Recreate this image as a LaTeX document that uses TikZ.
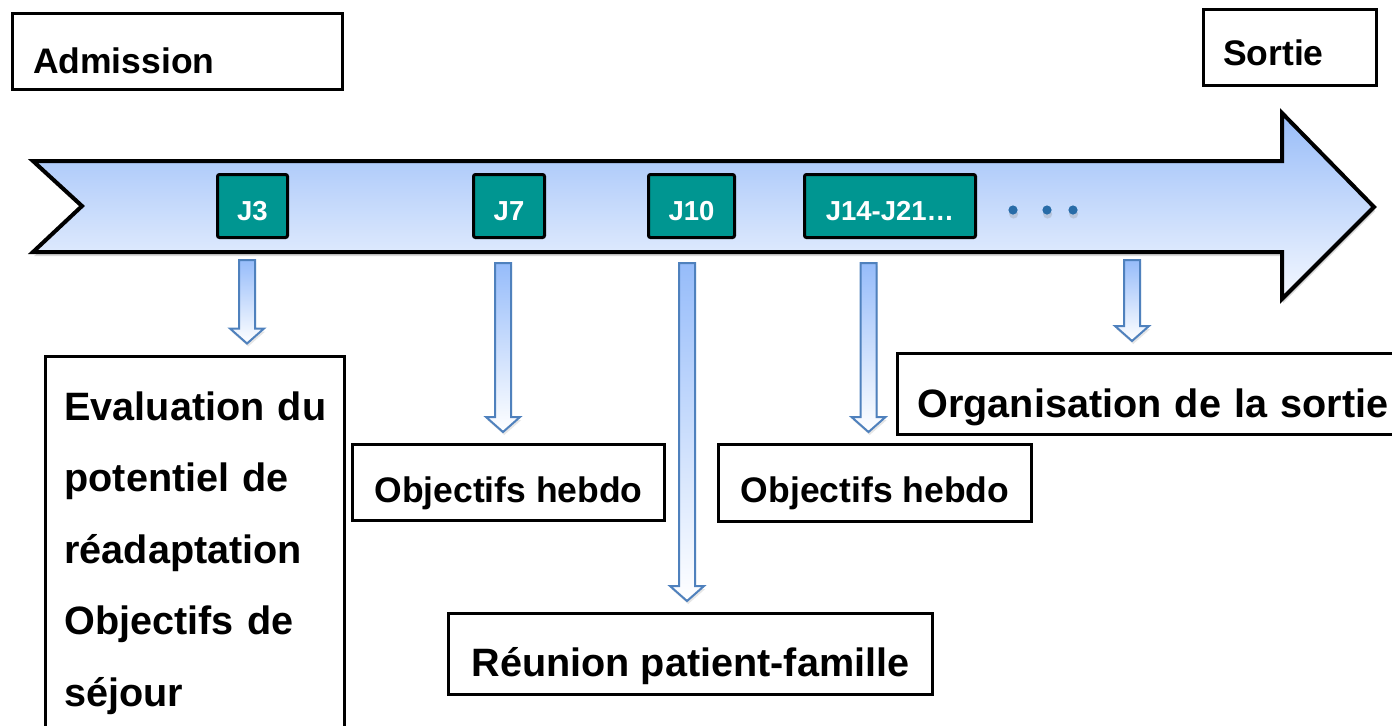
\documentclass[tikz,border=0pt]{standalone}
\usepackage{fontspec}
\setmainfont{Liberation Sans}
\usetikzlibrary{calc,shadows}
\usepackage{xcolor}

\definecolor{jteal}{RGB}{0,150,145}
\definecolor{barTop}{RGB}{152,188,248}
\definecolor{barBot}{RGB}{244,248,255}
\definecolor{flowTop}{RGB}{150,188,250}
\definecolor{linkBlue}{RGB}{79,129,189}
\definecolor{dotBlue}{RGB}{40,108,168}

% block arrow: x from #1, tip just above #2.north
\newcommand{\flowarrow}[2]{%
  \path[flow] let \p1=(#1), \p2=(#2.north) in
    (\x1-4pt,\y1) -- (\x1+4pt,\y1) -- (\x1+4pt,\y2+13pt) -- (\x1+8.5pt,\y2+13pt)
    -- (\x1,\y2+5.5pt) -- (\x1-8.5pt,\y2+13pt) -- (\x1-4pt,\y2+13pt) -- cycle;}

\begin{document}
\begin{tikzpicture}[
    x=0.5pt, y=-0.5pt,
    timeline/.style={draw=black, line width=2pt, top color=barTop, bottom color=barBot,
      drop shadow={shadow xshift=0.6pt, shadow yshift=-2pt, opacity=0.3}},
    dayBox/.style={draw=black, line width=1.5pt, fill=jteal, text=white, rounded corners=1pt,
      inner sep=0pt, minimum height=31.5pt, text height=14.8pt, text depth=0pt,
      font=\bfseries\fontsize{13.75pt}{16pt}\selectfont},
    stepBox/.style={draw=black, line width=1.5pt, fill=white, inner sep=0pt},
    midText/.style={font=\bfseries\fontsize{17.75pt}{21pt}\selectfont},
    bigText/.style={font=\bfseries\fontsize{19.8pt}{35.75pt}\selectfont},
    flow/.style={draw=linkBlue, line width=1pt, top color=flowTop, bottom color=white,
      drop shadow={shadow xshift=0.6pt, shadow yshift=-1.5pt, opacity=0.2}},
    moreDot/.style={fill=dotBlue, drop shadow={shadow xshift=0.3pt, shadow yshift=-2pt, opacity=0.25}}
  ]
  \useasboundingbox (0,0) rectangle (1392,725);

  % time line
  \path[timeline] (33,161) -- (1282,161) -- (1282,113) -- (1374,207) -- (1282,299)
    -- (1282,252) -- (33,252) -- (82,206) -- cycle;

  \node[dayBox, minimum width=35pt] (j3) at (252.5,206) {J3};
  \node[dayBox, minimum width=35.5pt] (j7) at (509,206) {J7};
  \node[dayBox, minimum width=43pt] (j10) at (691.5,206) {J10};
  \node[dayBox, minimum width=85.5pt] (j14) at (890,206) {J14-J21…};

  \foreach \dx in {1013,1047,1073}
    \path[moreDot] (\dx,210) circle (2.3pt);

  % boxes
  \node[stepBox, midText, minimum width=165pt, minimum height=38pt, inner xsep=10.25pt,
    text width=144.5pt, align=left, text height=21.5pt, text depth=0pt] (admission) at (177.5,51.5) {Admission};
  \node[stepBox, midText, minimum height=38pt, inner xsep=9.75pt, text width=67pt, align=left,
    text height=17.7pt, text depth=0pt] (sortie) at (1290,47.5) {Sortie};

  \node[stepBox, bigText, anchor=north west, inner xsep=9.75pt, inner ysep=0pt, text width=130pt,
    align=left, text height=32pt, text depth=170pt] (evalBox) at (43.5,354.5)
    {Evaluation~du\\potentiel~de\\réadaptation\\Objectifs~de\\séjour};
  \node[stepBox, midText, minimum width=156pt, minimum height=38pt, text height=19.7pt,
    text depth=0pt] (hebdoA) at (508.5,482.5) {Objectifs hebdo};
  \node[stepBox, midText, minimum width=156.5pt, minimum height=38.5pt, text height=19.7pt,
    text depth=0pt] (hebdoB) at (875,483) {Objectifs hebdo};
  \node[stepBox, bigText, minimum width=242pt, minimum height=40.5pt, text height=22.2pt,
    text depth=0pt] (famille) at (690.5,654) {Réunion patient-famille};
  \node[stepBox, bigText, anchor=west, minimum height=40.5pt, inner xsep=10.25pt,
    text width=239.5pt, align=left, text height=23.2pt, text depth=0pt] (orga) at (895.5,394)
    {Organisation de la sortie};

  % links
  \coordinate (fromJ3) at (247,260);
  \coordinate (fromJ7) at (503,263);
  \coordinate (fromJ10) at (687,263);
  \coordinate (fromJ14) at (868.5,263);
  \coordinate (fromEnd) at (1132,260);

  \flowarrow{fromJ3}{evalBox}
  \flowarrow{fromJ7}{hebdoA}
  \flowarrow{fromJ10}{famille}
  \flowarrow{fromJ14}{hebdoB}
  \flowarrow{fromEnd}{orga}
\end{tikzpicture}
\end{document}
